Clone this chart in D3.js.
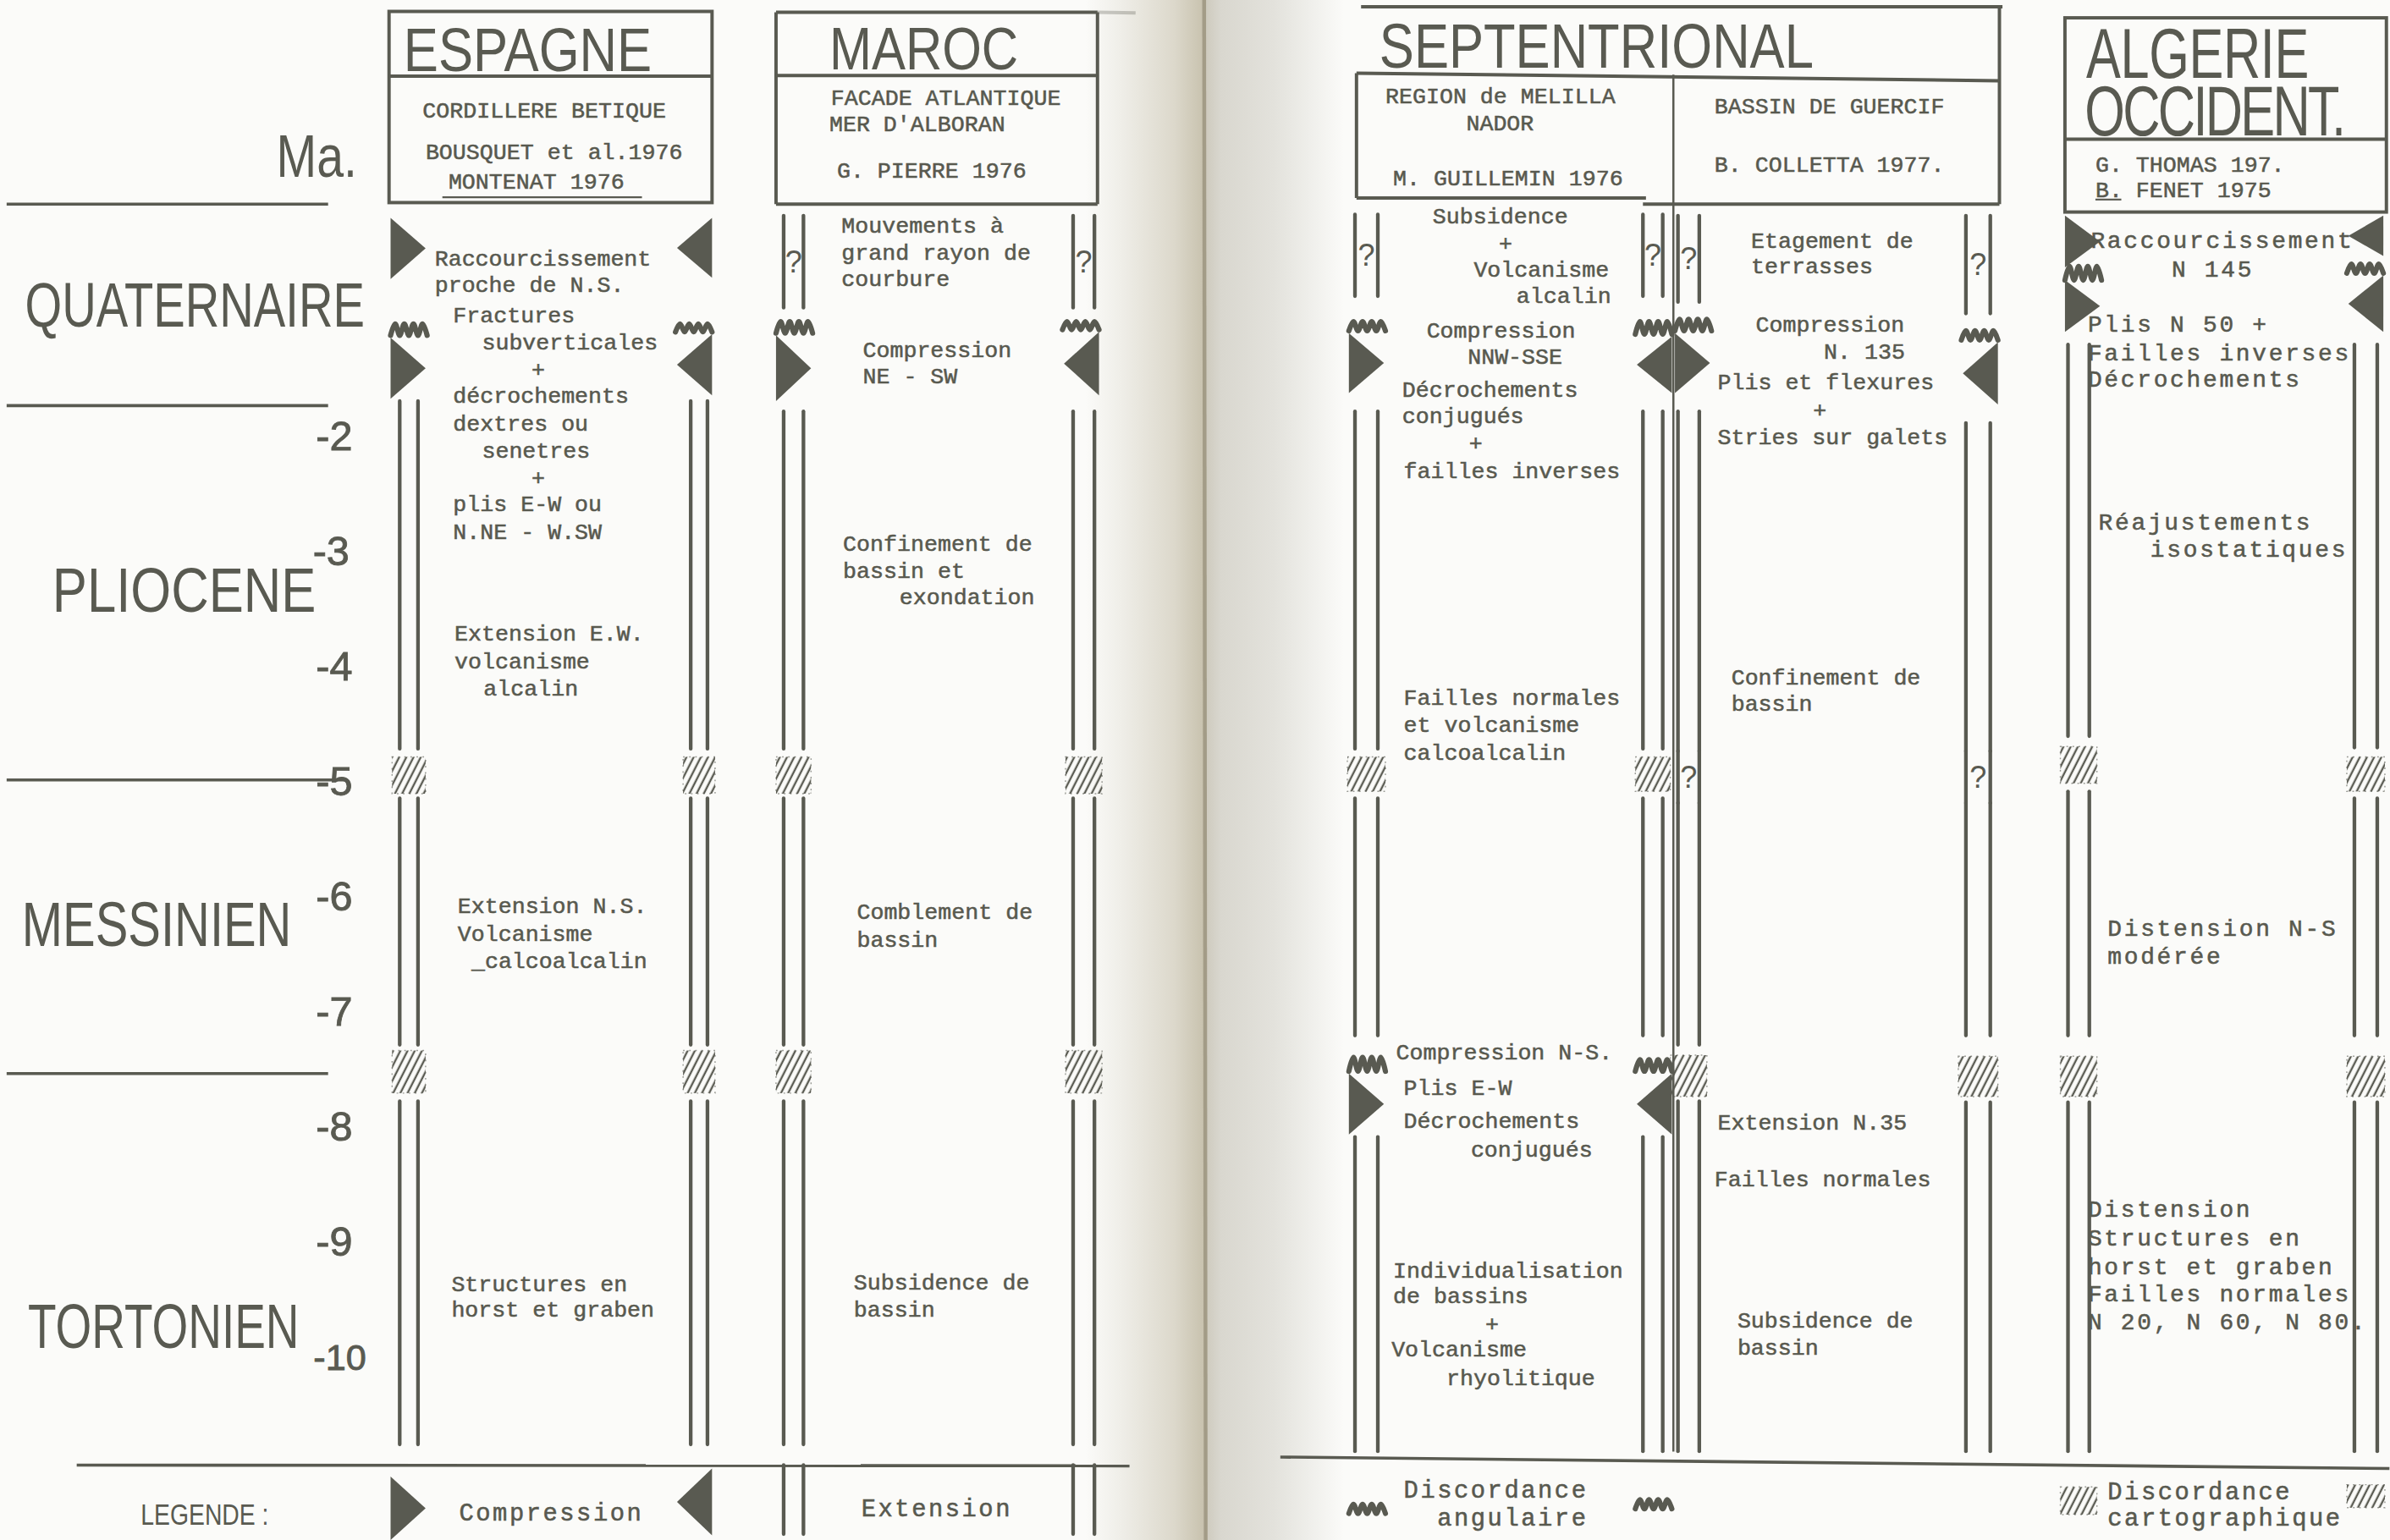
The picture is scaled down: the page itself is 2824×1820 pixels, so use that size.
<!DOCTYPE html>
<html><head><meta charset="utf-8">
<script src="https://cdn.jsdelivr.net/npm/d3@7"></script>
<style>html,body{margin:0;padding:0;background:#fbfbf9;}svg{display:block}</style>
</head><body><div id="chart"></div>
<script>
// ---------------- DATA ----------------
const tickValues = [-2,-3,-4,-5,-6,-7,-8,-9,-10];
const periodNames = ["QUATERNAIRE","PLIOCENE","MESSINIEN","TORTONIEN"];
const periodBounds = [0,-1.75,-5,-7.55,-11];
const colKeys = ["esp","mar","mel","gue","alg"];

const headerLines = [
  ["esp","CORDILLERE BETIQUE"],["esp","BOUSQUET et al.1976"],["esp","MONTENAT 1976"],
  ["mar","FACADE ATLANTIQUE"],["mar","MER D'ALBORAN"],["mar","G. PIERRE 1976"],
  ["mel","REGION de MELILLA"],["mel","NADOR"],["mel","M. GUILLEMIN 1976"],
  ["gue","BASSIN DE GUERCIF"],["gue","B. COLLETTA 1977."],
  ["alg","G. THOMAS 197."],["alg","B. FENET 1975"]
];

// symbols along column borders: [type, fromMa, toMa]
const espLeft  = [["comp",-0.12,-0.65],["disc",-1.02,-1.16],["comp",-1.16,-1.69],["ext",-1.71,-4.73],["hatch",-4.8,-5.12],["ext",-5.16,-7.30],["hatch",-7.35,-7.72],["ext",-7.79,-10.77]];
const espRight = [["comp",-0.12,-0.64],["disc",-1.02,-1.13],["comp",-1.13,-1.66],["ext",-1.71,-4.73],["hatch",-4.8,-5.12],["ext",-5.16,-7.30],["hatch",-7.35,-7.72],["ext",-7.79,-10.77]];
const marLeft  = [["extQ",-0.1,-0.9],["disc",-1.0,-1.14],["comp",-1.14,-1.71],["ext",-1.8,-4.73],["hatch",-4.8,-5.12],["ext",-5.16,-7.30],["hatch",-7.35,-7.72],["ext",-7.79,-10.77]];
const marRight = [["extQ",-0.1,-0.9],["disc",-1.0,-1.11],["comp",-1.11,-1.66],["ext",-1.8,-4.73],["hatch",-4.8,-5.12],["ext",-5.16,-7.30],["hatch",-7.35,-7.72],["ext",-7.79,-10.77]];
const melLeft  = [["extQ",-0.09,-0.8],["disc",-1.0,-1.12],["comp",-1.12,-1.64],["ext",-1.8,-4.73],["hatch",-4.8,-5.1],["ext",-5.16,-7.22],["disc",-7.39,-7.55],["comp",-7.55,-8.08],["ext",-8.1,-10.83]];
const melRight = [["extQ",-0.09,-0.8],["disc",-1.0,-1.15],["comp",-1.15,-1.64],["ext",-1.8,-4.73],["hatch",-4.8,-5.1],["ext",-5.16,-7.22],["disc",-7.41,-7.55],["comp",-7.55,-8.08],["ext",-8.1,-10.83]];
const gueLeft  = [["extQ",-0.1,-0.85],["disc",-0.98,-1.12],["comp",-1.12,-1.64],["ext",-1.8,-4.75],["extQ",-4.75,-5.2],["ext",-5.2,-7.3],["hatch",-7.39,-7.75],["ext",-7.79,-10.83]];
const gueRight = [["extQ",-0.1,-0.95],["disc",-1.08,-1.2],["comp",-1.2,-1.74],["ext",-1.9,-4.75],["extQ",-4.75,-5.2],["ext",-5.2,-7.22],["hatch",-7.4,-7.75],["ext",-7.8,-10.83]];
const algLeft  = [["comp",-0.1,-0.55],["disc",-0.52,-0.68],["comp",-0.66,-1.11],["ext",-1.22,-4.62],["hatch",-4.71,-5.03],["ext",-5.1,-7.22],["hatch",-7.4,-7.75],["ext",-7.8,-10.83]];
const algRight = [["comp",-0.1,-0.45],["disc",-0.5,-0.62],["comp",-0.62,-1.11],["ext",-1.22,-4.72],["hatch",-4.8,-5.1],["ext",-5.16,-7.22],["hatch",-7.4,-7.75],["ext",-7.8,-10.83]];

// notes: [Ma, indent (chars), text]
const espNotes = [
  [-0.476,3.37,"Raccourcissement"],[-0.70,3.37,"proche de N.S."],[-0.966,4.72,"Fractures"],
  [-1.204,6.85,"subverticales"],[-1.44,10.5,"+"],[-1.667,4.72,"décrochements"],
  [-1.905,4.72,"dextres ou"],[-2.143,6.85,"senetres"],[-2.38,10.5,"+"],
  [-2.606,4.72,"plis E-W ou"],[-2.844,4.72,"N.NE - W.SW"],
  [-3.73,4.83,"Extension E.W."],[-3.968,4.83,"volcanisme"],[-4.206,6.97,"alcalin"],
  [-6.098,5.06,"Extension N.S."],[-6.336,5.06,"Volcanisme"],[-6.574,6.07,"_calcoalcalin"],
  [-9.378,4.6,"Structures en"],[-9.603,4.6,"horst et graben"]
];
const marNotes = [
  [-0.185,4.83,"Mouvements à"],[-0.423,4.83,"grand rayon de"],[-0.648,4.83,"courbure"],
  [-1.27,6.4,"Compression"],[-1.495,6.4,"NE - SW"],
  [-2.95,4.94,"Confinement de"],[-3.188,4.94,"bassin et"],[-3.413,9.1,"exondation"],
  [-6.15,5.96,"Comblement de"],[-6.39,5.96,"bassin"],
  [-9.365,5.73,"Subsidence de"],[-9.603,5.73,"bassin"]
];
const melNotes = [
  [-0.106,5.62,"Subsidence"],[-0.344,10.5,"+"],[-0.569,8.65,"Volcanisme"],[-0.794,11.8,"alcalin"],
  [-1.098,5.17,"Compression"],[-1.323,8.2,"NNW-SSE"],[-1.614,3.37,"Décrochements"],
  [-1.839,3.37,"conjugués"],[-2.077,8.3,"+"],[-2.315,3.48,"failles inverses"],
  [-4.286,3.48,"Failles normales"],[-4.524,3.48,"et volcanisme"],[-4.762,3.48,"calcoalcalin"],
  [-7.368,2.92,"Compression N-S."],[-7.672,3.48,"Plis E-W"],[-7.963,3.48,"Décrochements"],
  [-8.214,8.43,"conjugués"],[-9.259,2.7,"Individualisation"],[-9.484,2.7,"de bassins"],
  [-9.722,9.5,"+"],[-9.947,2.58,"Volcanisme"],[-10.198,6.63,"rhyolitique"]
];
const gueNotes = [
  [-0.317,5.73,"Etagement de"],[-0.542,5.73,"terrasses"],[-1.045,6.07,"Compression"],
  [-1.283,11.1,"N. 135"],[-1.548,3.26,"Plis et flexures"],[-1.786,10.3,"+"],
  [-2.024,3.26,"Stries sur galets"],[-4.114,4.27,"Confinement de"],[-4.339,4.27,"bassin"],
  [-7.976,3.26,"Extension N.35"],[-8.466,3.03,"Failles normales"],
  [-9.696,4.72,"Subsidence de"],[-9.934,4.72,"bassin"]
];
const algNotes = [
  [-0.317,1.57,"Raccourcissement"],[-0.569,6.48,"N 145"],[-1.045,1.39,"Plis N 50 +"],
  [-1.296,1.39,"Failles inverses"],[-1.521,1.39,"Décrochements"],
  [-2.765,2.04,"Réajustements"],[-3.003,5.19,"isostatiques"],
  [-6.296,2.59,"Distension N-S"],[-6.534,2.59,"modérée"],
  [-8.73,1.39,"Distension"],[-8.98,1.39,"Structures en"],[-9.233,1.39,"horst et graben"],
  [-9.47,1.39,"Failles normales"],[-9.709,1.39,"N 20, N 60, N 80."]
];

// legend: [symbol, column whose borders it uses, label lines]
const legendItems = [
  ["comp","esp",["Compression"]],
  ["ext","mar",["Extension"]],
  ["disc","mel",["Discordance","  angulaire"]],
  ["hatch","alg",["Discordance","cartographique"]]
];

// ---------------- LAYOUT ----------------
const W = 1568, H = 1011;
const INK = "#595a51", TXT = "#58594f";
const MONO = "'Liberation Mono','DejaVu Sans Mono',monospace";
const SANS = "'Liberation Sans Narrow','Liberation Sans','DejaVu Sans Condensed',sans-serif";

const y = d3.scaleLinear().domain([0,-10]).range([134,890]);
const colLeft = d3.scaleOrdinal().domain(colKeys).range([255,509,890,1098,1355]);
const charW = d3.scaleOrdinal().domain(colKeys).range([8.9,8.9,8.9,8.9,10.8]);
const sideGeom = {
  esp:{L:{edge:256,lines:[262,274]},R:{edge:467,lines:[453,464]}},
  mar:{L:{edge:509,lines:[514,527]},R:{edge:721,lines:[704,718]}},
  mel:{L:{edge:885,lines:[889,904]},R:{edge:1097,lines:[1078,1091]}},
  gue:{L:{edge:1099,lines:[1101,1115]},R:{edge:1311,lines:[1290,1306]}},
  alg:{L:{edge:1355,lines:[1357,1371]},R:{edge:1564,lines:[1545,1560]}}
};
const sideData = {esp:[espLeft,espRight],mar:[marLeft,marRight],mel:[melLeft,melRight],gue:[gueLeft,gueRight],alg:[algLeft,algRight]};
const noteData = {esp:espNotes,mar:marNotes,mel:melNotes,gue:gueNotes,alg:algNotes};
const headerPos = [[277,72.4],[279,100],[294,119],[545,64.5],[544,81.3],[549,112],[909,63],[962,81],[914,117],[1125,70],[1125,108],[1375,108],[1375,125]];

const svg = d3.select("#chart").append("svg")
  .attr("width",2824).attr("height",1820).attr("viewBox",`0 0 ${W} ${H}`);
const defs = svg.append("defs");
const gl = defs.append("linearGradient").attr("id","gutL");
[[0,"#fbfbf9"],[0.3,"#efeee8"],[0.75,"#dcd8cb"],[1,"#c8c2ae"]].forEach(([o,c])=>gl.append("stop").attr("offset",o).attr("stop-color",c));
const gr = defs.append("linearGradient").attr("id","gutR");
[[0,"#cdc9bc"],[0.12,"#d9d7cf"],[0.5,"#e3e2dc"],[1,"#fbfbf9"]].forEach(([o,c])=>gr.append("stop").attr("offset",o).attr("stop-color",c));
const pat = defs.append("pattern").attr("id","hatch").attr("patternUnits","userSpaceOnUse")
  .attr("width",4.2).attr("height",10).attr("patternTransform","rotate(27)");
pat.append("line").attr("x1",1).attr("y1",-1).attr("x2",1).attr("y2",11).attr("stroke",INK).attr("stroke-width",1.3);

svg.append("rect").attr("width",W).attr("height",H).attr("fill","#fbfbf9");
svg.append("rect").attr("x",712).attr("y",0).attr("width",78).attr("height",H).attr("fill","url(#gutL)");
svg.append("rect").attr("x",790).attr("y",0).attr("width",92).attr("height",H).attr("fill","url(#gutR)");
svg.append("line").attr("x1",790).attr("x2",791).attr("y1",0).attr("y2",H).attr("stroke","#a39c87").attr("stroke-width",2.5);

// text squeezed horizontally to a given width, with a correct bounding box
function fitText(g, str, x, yb, w, fs){
  const t = g.append("text").attr("font-family",SANS).attr("font-size",fs).attr("fill",INK).text(str);
  const w0 = t.node().getComputedTextLength() || w;
  t.attr("transform",`translate(${x},${yb}) scale(${w/w0},1)`);
  return t;
}

// ---- left time axis ----
const gl2 = svg.append("g");
periodBounds.slice(0,4).forEach(b=>{
  gl2.append("line").attr("x1",4).attr("x2", b===-5 ? 226 : 215).attr("y1",y(b)).attr("y2",y(b))
    .attr("stroke",INK).attr("stroke-width",2);
});
const periodLayout = [[16,223,0],[34,173,-2],[14,177,-2],[18,178,35]];
periodNames.forEach((p,i)=>{
  const mid = (periodBounds[i]+periodBounds[i+1])/2;
  const [px,pw,dy] = periodLayout[i];
  fitText(gl2, p, px, y(mid)+dy+14.5, pw, 41);
});
fitText(gl2, "Ma.", 181, 116, 53, 39);

const axis = d3.axisLeft(y).tickValues(tickValues).tickSize(0).tickPadding(0).tickFormat(d=>"-"+Math.abs(d));
const gAxis = svg.append("g").attr("transform","translate(231,0)").call(axis);
gAxis.select(".domain").remove();
gAxis.selectAll(".tick text")
  .attr("font-family",SANS).attr("fill",INK).attr("stroke",INK).attr("stroke-width",0.5)
  .attr("dy","0.36em")
  .attr("font-size",d=>d===-10 ? 24 : 27)
  .attr("x",d=>d===-10 ? 9 : (d===-3 ? -2 : 0));

// ---- headers ----
const gh = svg.append("g").attr("fill","none").attr("stroke",INK).attr("stroke-width",2.2);
function hl(x1,y1,x2,y2,op,sw){ return gh.append("line").attr("x1",x1).attr("y1",y1).attr("x2",x2).attr("y2",y2).attr("opacity",op||1).attr("stroke-width",sw||2.2); }
gh.append("rect").attr("x",255).attr("y",7.5).attr("width",212).attr("height",125.5);
hl(255,50,467,50);
hl(290,129.5,421,129.5,1,1.2);
hl(509,8,720,8); hl(720,8,745,8.5,0.3); hl(509,8,509,134); hl(720,8,720,134); hl(509,49.6,720,49.6); hl(509,134,720,134);
hl(893,4.5,1314,4.5); hl(1312,4.5,1312,134); hl(890,48,1312,53); hl(890,48,890,130);
hl(890,130,1080,130); hl(1078,134,1312,134);
hl(1098,49,1098,953,1,1.4);
gh.append("rect").attr("x",1355).attr("y",11.7).attr("width",211).attr("height",127.5);
hl(1355,91.4,1566,91.4);
hl(1375,131,1392,131,1,1.2);

const titles = [["ESPAGNE",264.5,46.6,163,40],["MAROC",544,45.6,124,39],["SEPTENTRIONAL",905,44.6,285,41.5]];
const gt = svg.append("g");
titles.forEach(([t,x0,y0,w,fs])=>fitText(gt, t, x0, y0, w, fs));
// two-line Algerian title as one text element
(function(){
  const sx = 0.74;
  const t = gt.append("text").attr("font-family",SANS).attr("font-size",46).attr("fill",INK)
    .attr("transform",`translate(1369,51) scale(${sx},1)`);
  const a = t.append("tspan").attr("x",0).attr("y",0).text("ALGERIE");
  const b = t.append("tspan").attr("x",-1/sx).attr("y",38).text("OCCIDENT.");
  const wa = a.node().getComputedTextLength(), wb = b.node().getComputedTextLength();
  a.attr("letter-spacing", (146/sx - wa)/7);
  b.attr("letter-spacing", (170/sx - wb)/9);
})();
svg.append("g").selectAll("text").data(headerLines).join("text")
  .attr("x",(d,i)=>headerPos[i][0]).attr("y",(d,i)=>headerPos[i][1]+4.6)
  .attr("font-family",MONO).attr("font-size",14.8).attr("fill",TXT)
  .attr("stroke",TXT).attr("stroke-width",0.3).text(d=>d[1]);

// ---- symbols ----
function drawSymbol(g, s, geom, dir){
  const [type,a,b] = s;
  const y0 = y(a), y1 = y(b);
  const [l1,l2] = geom.lines;
  if (type==="ext" || type==="extQ"){
    [l1,l2].forEach(xx=>g.append("line").attr("x1",xx).attr("x2",xx).attr("y1",y0).attr("y2",y1)
      .attr("stroke",INK).attr("stroke-width",2.4).attr("stroke-linecap","round"));
    if (type==="extQ") g.append("text").attr("x",(l1+l2)/2).attr("y",(y0+y1)/2+7).attr("text-anchor","middle")
      .attr("font-family","'Liberation Sans',sans-serif").attr("font-size",20).attr("fill",INK).text("?");
  } else if (type==="comp"){
    const e = geom.edge, w = 23;
    g.append("polygon").attr("points",[[e,y0],[e+dir*w,(y0+y1)/2],[e,y1]].join(" ")).attr("fill",INK);
  } else if (type==="disc"){
    const e = geom.edge, n = 8, w = 24, ym = (y0+y1)/2, amp = Math.max(2.5,(y1-y0)/2-1.5);
    const pts = d3.range(n+1).map(i=>[e+dir*(i*w/n), ym+(i%2 ? -amp : amp)]);
    g.append("path").attr("d",d3.line().curve(d3.curveCardinal)(pts)).attr("fill","none")
      .attr("stroke",INK).attr("stroke-width",3.4).attr("stroke-linecap","round");
  } else if (type==="hatch"){
    const xa = Math.min(l1,l2)-5, xb = Math.max(l1,l2)+5;
    g.append("rect").attr("x",xa).attr("y",y0).attr("width",xb-xa).attr("height",y1-y0).attr("fill","url(#hatch)");
    g.append("rect").attr("x",xa).attr("y",y0).attr("width",xb-xa).attr("height",y1-y0).attr("fill","none")
      .attr("stroke",INK).attr("stroke-width",0.8).attr("stroke-dasharray","1 3").attr("opacity",0.6);
  }
}
const gs = svg.append("g");
colKeys.forEach(k=>{
  sideData[k][0].forEach(s=>drawSymbol(gs,s,sideGeom[k].L,1));
  sideData[k][1].forEach(s=>drawSymbol(gs,s,sideGeom[k].R,-1));
});

// ---- notes ----
colKeys.forEach(k=>{
  svg.append("g").selectAll("text").data(noteData[k]).join("text")
    .attr("x",d=>colLeft(k)+d[1]*charW(k)).attr("y",d=>y(d[0])+4.6)
    .attr("font-family",MONO).attr("font-size", k==="alg" ? 15.5 : 14.8)
    .attr("letter-spacing", k==="alg" ? 1.5 : 0).attr("fill",TXT)
    .attr("stroke",TXT).attr("stroke-width",0.3).text(d=>d[2]);
});

// ---- bottom rule & legend ----
svg.append("line").attr("x1",50).attr("x2",741).attr("y1",y(-10.95)).attr("y2",y(-10.95)+0.5).attr("stroke",INK).attr("stroke-width",2);
svg.append("line").attr("x1",840).attr("x2",1568).attr("y1",y(-10.88)).attr("y2",y(-10.98)).attr("stroke",INK).attr("stroke-width",2);
fitText(svg, "LEGENDE :", 92, 1001, 84, 19);
const legendSym = {
  comp:[["comp",-11.05,-11.6],["comp",-10.98,-11.56]],
  ext:[["ext",-10.95,-11.55],["ext",-10.95,-11.55]],
  disc:[["disc",-11.27,-11.39],["disc",-11.23,-11.35]],
  hatch:[["hatch",-11.14,-11.38],["hatch",-11.12,-11.32]]
};
const legendTextPos = [[301,[993]],[565,[990]],[921,[978,996]],[1383,[979,996]]];
const gLeg = svg.append("g");
legendItems.forEach(([sym,col,labels],i)=>{
  drawSymbol(gLeg, legendSym[sym][0], sideGeom[col].L, 1);
  drawSymbol(gLeg, legendSym[sym][1], sideGeom[col].R, -1);
  labels.forEach((lab,j)=>{
    gLeg.append("text").attr("x",legendTextPos[i][0]).attr("y",legendTextPos[i][1][j]+5.5)
      .attr("font-family",MONO).attr("font-size",16).attr("letter-spacing",1.4).attr("fill",TXT)
      .attr("stroke",TXT).attr("stroke-width",0.3)
      .attr("xml:space","preserve").style("white-space","pre").text(lab);
  });
});
</script></body></html>
